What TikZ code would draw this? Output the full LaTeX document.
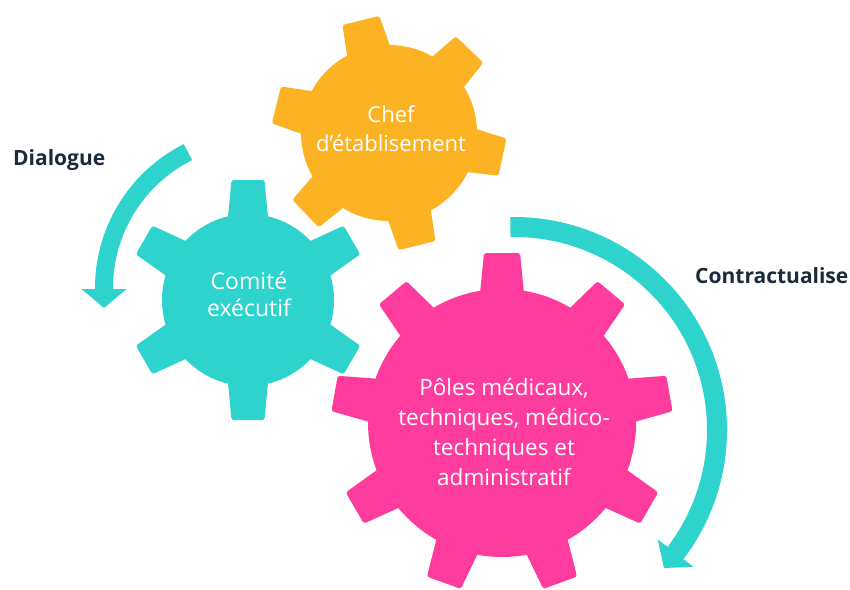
\documentclass[tikz,border=0pt]{standalone}
\usepackage{fontspec}
\setmainfont{Open Sans}
\usetikzlibrary{arrows.meta,calc}
\definecolor{gorange}{HTML}{FBB323}
\definecolor{gteal}{HTML}{2ED3CE}
\definecolor{gpink}{HTML}{FD3C9E}
\definecolor{navy}{HTML}{1C2B3C}
% #1 x, #2 y, #3 body radius, #4 outer radius, #5 base half width, #6 tip half width, #7 angles, #8 colour
\newcommand{\drawgear}[8]{%
  \fill[#8] (#1,#2) circle[radius=#3];
  \foreach \a in {#7}{%
    \fill[#8, rounded corners=2.5pt, shift={(#1,#2)}, rotate=\a]
      (#3-14,-#5) -- (#4,-#6) -- (#4,#6) -- (#3-14,#5) -- cycle;}%
}
\begin{document}
\begin{tikzpicture}[x=1pt,y=1pt,
  geartext/.style={text=white, font=\fontsize{22}{29}\selectfont, align=center, inner sep=0pt},
  sidelabel/.style={text=navy, font=\fontsize{21}{25}\selectfont\bfseries, inner sep=0pt},
  band/.style={draw=gteal, line width=#1, -{Triangle[width=44pt,length=19pt]}}]
\useasboundingbox (0,0) rectangle (850,-589);
\fill[white] (0,0) rectangle (850,-589);

% gears
\drawgear{389}{-133}{88}{116}{23}{19}{104,46,-12,-76,-136,166}{gorange}
\drawgear{248}{-300}{86}{120}{21}{16.5}{90,30,-30,-90,-150,150}{gteal}
\drawgear{502}{-423}{134}{170}{23}{18}{90,50,10,-30,-70,-110,-150,170,130}{gpink}

% texts
\node[geartext] (chef) at (391,-129) {Chef\\d'établisement};
\node[geartext, font=\fontsize{23}{27}\selectfont] (comite) at (249,-294) {Comité\\exécutif};
\node[geartext, font=\fontsize{22.5}{30}\selectfont] (poles) at (504,-432) {Pôles médicaux,\\techniques, médico-\\techniques et\\administratif};

\node[sidelabel, anchor=base west] (dialogue) at (13,-165) {Dialogue};
\node[sidelabel, anchor=base west] (contract) at (695,-283) {Contractualise};

% arrows
\coordinate (dstart) at ($(256,-288)+(116.6:152)$);
\coordinate (cstart) at ($(514,-430)+(91:203)$);
\draw[band=18pt] (dstart) arc[start angle=116.6, end angle=180, radius=152] -- ++(0,-20);
\draw[band=20pt] (cstart) arc[start angle=91, end angle=-37, radius=203] -- ++(-12.2,-15.9);
\end{tikzpicture}
\end{document}
